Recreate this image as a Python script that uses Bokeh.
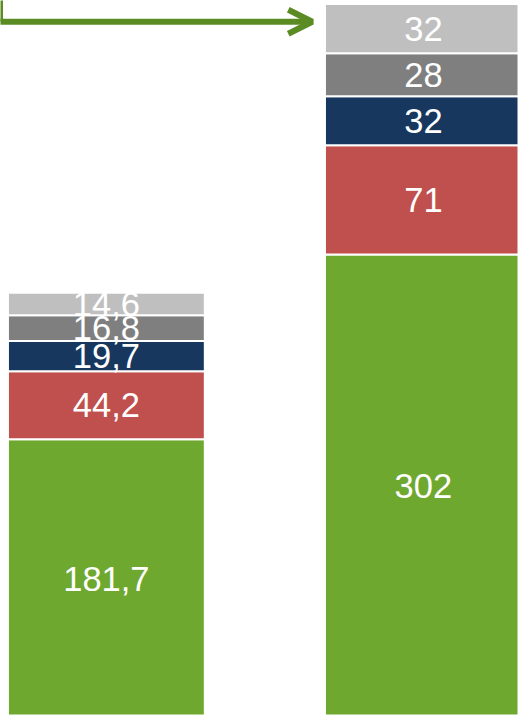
from bokeh.plotting import figure
from bokeh.models import Range1d, Arrow, OpenHead, ColumnDataSource
from bokeh.core.properties import value
from bokeh.embed import file_html
from bokeh.resources import INLINE

# ---- data ----
positions = [0, 1]
series = ["green", "red", "navy", "dgray", "lgray"]
green = [181.7, 302]
red = [44.2, 71]
navy = [19.7, 32]
dgray = [16.8, 28]
lgray = [14.6, 32]
colors = ["#6FA82F", "#C0504D", "#17375E", "#7F7F7F", "#BFBFBF"]

# ---- layout ----
W, H = 518, 715
bar_w = 0.621
x0 = -0.334
x1 = 1.300
y0 = 1.8
y1 = 467.3

p = figure(width=W, height=H, output_backend="svg", toolbar_location=None,
           x_range=Range1d(x0, x1), y_range=Range1d(y0, y1),
           min_border=0, min_border_left=0, min_border_right=0,
           min_border_top=0, min_border_bottom=0)
p.xaxis.visible = False
p.yaxis.visible = False
p.grid.visible = False
p.outline_line_color = None
p.background_fill_color = "white"
p.border_fill_color = "white"

data = dict(x=positions, green=green, red=red, navy=navy, dgray=dgray, lgray=lgray)
src = ColumnDataSource(data)
p.vbar_stack(series, x="x", width=bar_w, color=colors, source=src,
             line_color="white", line_width=2)

# labels at segment midpoints
lx, ly, lt = [], [], []
for i, xpos in enumerate(positions):
    base = 0.0
    for s in series:
        v = data[s][i]
        lx.append(xpos)
        ly.append(base + v / 2.0)
        lt.append(f"{v:g}".replace(".", ","))
        base += v
p.text(x=lx, y=ly, text=lt, text_color="white", text_font=value("Liberation Sans"),
       text_font_size="34.5px", text_align="center", text_baseline="middle")

# arrow from left (off-chart) to the right bar
arrow_color = "#5B8C24"
arrow_y = 453.5
arrow_x_end = positions[1] - bar_w / 2 - 0.04
p.segment(x0=[x0], y0=[arrow_y], x1=[x0], y1=[y1 + 10],
          line_color=arrow_color, line_width=5)
p.add_layout(Arrow(end=OpenHead(size=24, line_color=arrow_color, line_width=6),
                   x_start=x0 - 0.01, y_start=arrow_y, x_end=arrow_x_end, y_end=arrow_y,
                   line_color=arrow_color, line_width=6))

open("out.html", "w").write(file_html(p, INLINE))
